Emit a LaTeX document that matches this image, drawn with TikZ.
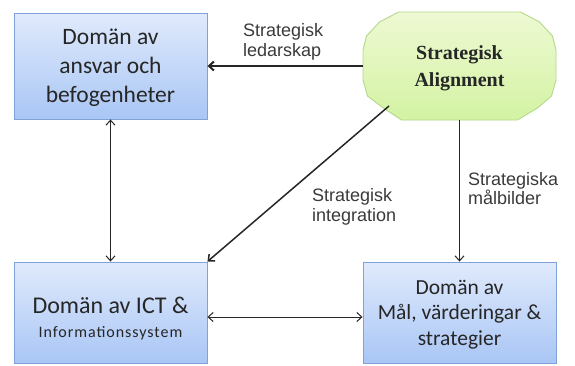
\documentclass[tikz,border=0pt]{standalone}
\usepackage{fontspec}
\setmainfont{Carlito}
\newfontfamily\labelfont{Liberation Sans}
\newfontfamily\titlefont{Liberation Serif}
\usetikzlibrary{arrows.meta,shadings}

\definecolor{boxtop}{HTML}{E0EAFC}
\definecolor{boxbot}{HTML}{A9C6F5}
\definecolor{boxedge}{HTML}{7FA3D8}
\definecolor{octtop}{HTML}{EEF9D3}
\definecolor{octbot}{HTML}{D3F3A3}
\definecolor{octedge}{HTML}{B2D98A}
\definecolor{ink}{HTML}{262626}
\definecolor{labelink}{HTML}{3A3A3A}

\tikzset{
  domainbox/.style={draw=boxedge, line width=0.9pt, top color=boxtop, bottom color=boxbot,
    minimum width=193pt, inner sep=0pt},
  domaintext/.style={text=ink, align=center, inner sep=0pt},
  flowlabel/.style={text=labelink, align=left, anchor=west, inner sep=0pt,
    font=\labelfont\fontsize{18}{19.5}\selectfont},
  barbtip/.tip={Straight Barb[length=5pt,width=9pt]},
  conn/.style={draw=ink, line width=1pt, -barbtip},
  twoway/.style={draw=ink, line width=1pt, barbtip-barbtip},
}

\begin{document}
\begin{tikzpicture}[x=1pt,y=-1pt]
\useasboundingbox (0,0) rectangle (575,365);

% domain boxes
\node[domainbox, minimum height=106pt] (A) at (110.5,66) {};
\node[domainbox, minimum height=101pt] (B) at (110.5,312.5) {};
\node[domainbox, minimum height=101pt] (C) at (459.5,312.5) {};

\node[domaintext, font=\fontsize{23.5}{29}\selectfont] (Atext) at (110.5,67.5)
  {Domän av\\ansvar och\\befogenheter};
\node[domaintext, anchor=base, font=\fontsize{24}{29}\selectfont] (Btext1) at (110.5,313)
  {Domän av ICT \&};
\node[domaintext, anchor=base, font=\fontsize{16}{19}\selectfont] (Btext2) at (110.5,337)
  {\addfontfeature{LetterSpace=6}Informationssystem};
\node[domaintext, font=\fontsize{21.5}{25.5}\selectfont] (Ctext) at (459.5,314.5)
  {Domän av\\Mål, värderingar \&\\strategier};

% central alignment polygon
\node[minimum width=193pt, minimum height=108pt, inner sep=0pt] (hub) at (459.5,66) {};
\path[draw=octedge, line width=0.9pt, top color=octtop, bottom color=octbot, shift={(459.5,66)}]
  (-61,-54) -- (61,-54) -- (80,-44) -- (93,-30) -- (96.5,-16) -- (96.5,14) -- (92,30)
  -- (78,42) -- (58,54) -- (-58,54) -- (-76,42) -- (-92,30) -- (-96.5,14) -- (-96.5,-16)
  -- (-93,-30) -- (-80,-44) -- cycle;
\node[text=ink, align=center, inner sep=0pt,
  font=\titlefont\bfseries\fontsize{20}{27}\selectfont] (hubtext) at (459.5,68)
  {Strategisk\\Alignment};
\coordinate (hubsw) at (389,106);

% connectors
\draw[conn, line width=2pt] (hub.west) -- (A.east);
\draw[conn, line width=1.5pt] (hubsw) -- (B.north east);
\draw[conn] (hub.south) -- (C.north);
\draw[twoway] (A.south) -- (B.north);
\draw[twoway] ([yshift=-4.5pt]B.east) -- ([yshift=-4.5pt]C.west);

% connector labels
\node[flowlabel] (lead) at (243,41.8) {Strategisk\\ledarskap};
\node[flowlabel] (integ) at (312,207) {Strategisk\\integration};
\node[flowlabel] (goals) at (468,188.5) {Strategiska\\målbilder};
\end{tikzpicture}
\end{document}
